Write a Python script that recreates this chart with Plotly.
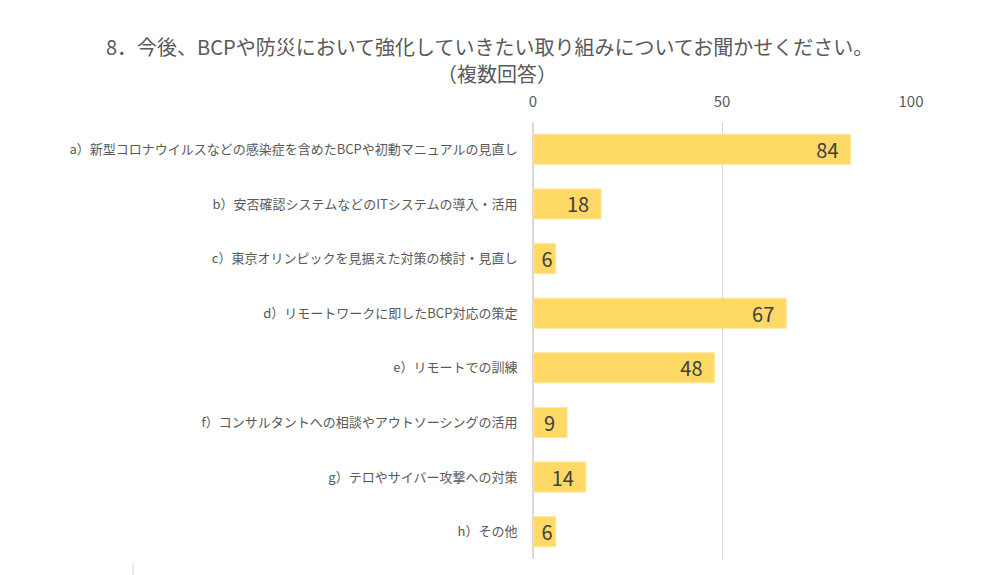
import plotly.graph_objects as go

# 設問8 回答データ
categories = [
    "a）新型コロナウイルスなどの感染症を含めたBCPや初動マニュアルの見直し",
    "b）安否確認システムなどのITシステムの導入・活用",
    "c）東京オリンピックを見据えた対策の検討・見直し",
    "d）リモートワークに即したBCP対応の策定",
    "e）リモートでの訓練",
    "f）コンサルタントへの相談やアウトソーシングの活用",
    "g）テロやサイバー攻撃への対策",
    "h）その他",
]
counts = [84, 18, 6, 67, 48, 9, 14, 6]
tick_vals = [0, 50, 100]

font_jp = "Noto Sans CJK JP"

# right padding for the value labels, dropped when the bar is too short
labels = [f"{v}\u00a0\u00a0" if v >= 8 else f"{v}" for v in counts]

fig = go.Figure()
fig.add_trace(go.Bar(
    x=counts,
    y=categories,
    orientation="h",
    width=0.55,
    marker=dict(color="#FFD966", line=dict(color="#FFE699", width=1)),
    text=labels,
    textposition="inside",
    insidetextanchor="end",
    textangle=0,
    constraintext="none",
    textfont=dict(family=font_jp, size=20, color="#404040"),
    hoverinfo="x+y",
))

fig.update_xaxes(
    side="top",
    range=[0, 100],
    tickvals=tick_vals,
    automargin=False,
    showgrid=True,
    gridcolor="#D9D9D9",
    gridwidth=1,
    zeroline=True,
    zerolinecolor="#D9D9D9",
    showline=False,
    ticks="outside",
    ticklen=8,
    tickcolor="rgba(0,0,0,0)",
    tickfont=dict(family=font_jp, size=15, color="#595959"),
)
fig.update_yaxes(
    autorange="reversed",
    automargin=False,
    showgrid=False,
    ticks="outside",
    ticklen=12,
    tickcolor="rgba(0,0,0,0)",
    tickfont=dict(family=font_jp, size=13, color="#595959"),
)

fig.update_layout(
    width=1000,
    height=575,
    margin=dict(l=525, r=97, t=114, b=24),
    plot_bgcolor="white",
    paper_bgcolor="white",
    showlegend=False,
    bargap=0.45,
    annotations=[
        dict(text="8．今後、BCPや防災において強化していきたい取り組みについてお聞かせください。",
             xref="paper", yref="paper", x=-0.114, y=1.173,
             xanchor="center", yanchor="middle", showarrow=False,
             font=dict(family=font_jp, size=20, color="#595959")),
        dict(text="（複数回答）",
             xref="paper", yref="paper", x=-0.095, y=1.111,
             xanchor="center", yanchor="middle", showarrow=False,
             font=dict(family=font_jp, size=20, color="#595959")),
    ],
    shapes=[
        dict(type="line", xref="paper", yref="paper",
             x0=-1.058, x1=-1.058, y0=-0.007, y1=-0.041,
             line=dict(color="#D9D9D9", width=1)),
    ],
)

fig.write_html("out.html")
